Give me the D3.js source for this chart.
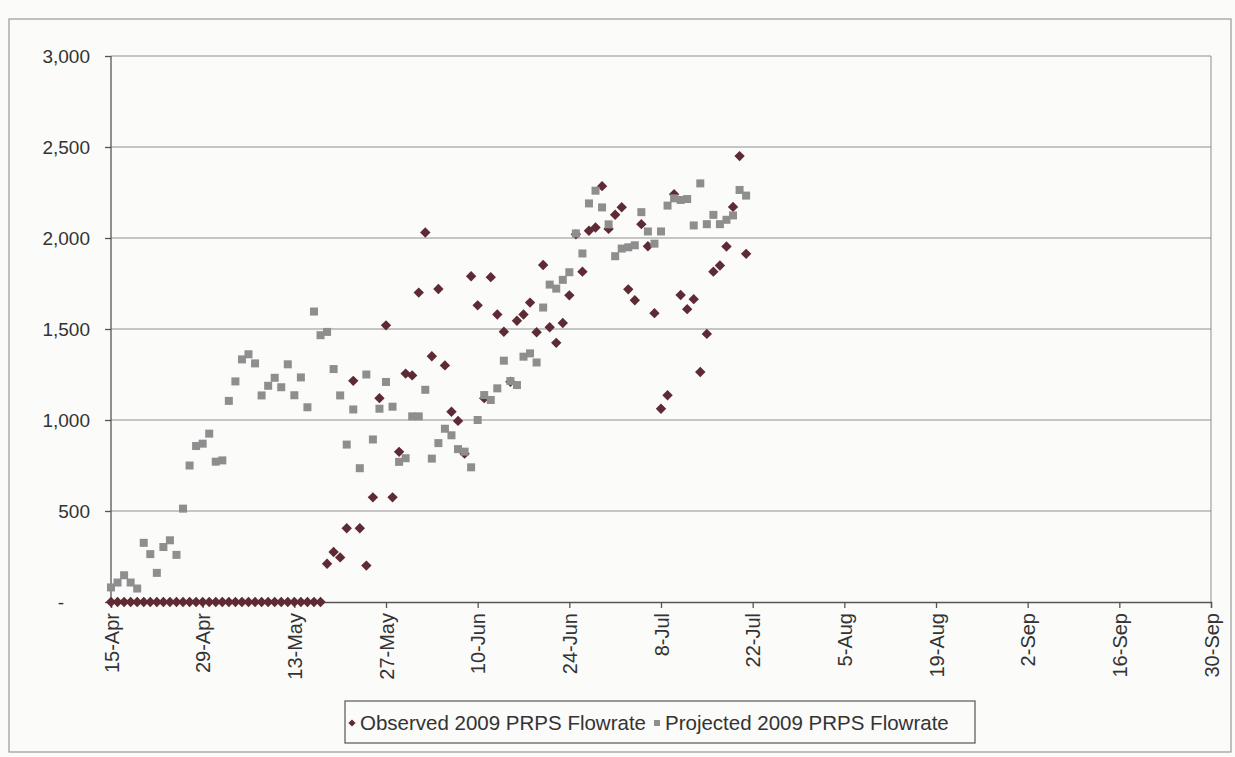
<!DOCTYPE html>
<html>
<head>
<meta charset="utf-8">
<script src="https://cdn.jsdelivr.net/npm/d3@7"></script>
<style>
body { margin: 0; background: #fbfbfa; }
text { font-family: "Liberation Sans", Arial, sans-serif; fill: #333; }
</style>
</head>
<body>
<div id="chart-area"></div>
<script>
// Daily values, first point on 15-Apr
var firstDay = "15-Apr-2009";

var observed = [
    0, 0, 0, 0, 0, 0, 0, 0, 0, 0, 0, 0, 0, 0, 0, 0, 0, 0, 0, 0,
    0, 0, 0, 0, 0, 0, 0, 0, 0, 0, 0, 0, 0,
    210, 275, 245, 405, 1215, 405, 200, 575, 1120, 1520,
    575, 825, 1255, 1245, 1700, 2030, 1350, 1720, 1300, 1045,
    995, 815, 1790, 1630, 1120, 1785, 1580, 1485, 1210, 1545,
    1580, 1645, 1482, 1852, 1510, 1424, 1533, 1685, 2020, 1815,
    2040, 2058, 2285, 2050, 2128, 2169, 1718, 1658, 2076, 1955,
    1587, 1062, 1136, 2240, 1687, 1609, 1664, 1264, 1473, 1815,
    1849, 1953, 2171, 2450, 1913
];

var projected = [
    80, 107, 147, 107, 74, 325, 263, 160, 302, 339,
    259, 513, 750, 857, 870, 925, 771, 778, 1105, 1212,
    1333, 1361, 1311, 1135, 1188, 1232, 1180, 1306, 1136, 1234,
    1070, 1596, 1466, 1484, 1280, 1135, 865, 1058, 735, 1250,
    893, 1062, 1209, 1073, 770, 790, 1020,
    1020, 1166, 788, 873, 952, 916, 840, 826, 740, 1000,
    1137, 1110, 1174, 1326, 1214, 1192, 1348, 1366, 1316, 1618,
    1744, 1722, 1770, 1812, 2025, 1915, 2190, 2260, 2168, 2075,
    1900, 1942, 1949, 1960, 2142, 2036, 1969, 2036, 2178, 2218,
    2209, 2214, 2069, 2300, 2076, 2127, 2076, 2100, 2124, 2264,
    2233
];

var xTickLabels = ["15-Apr", "29-Apr", "13-May", "27-May", "10-Jun", "24-Jun", "8-Jul",
                   "22-Jul", "5-Aug", "19-Aug", "2-Sep", "16-Sep", "30-Sep"];
var yTicks = [0, 500, 1000, 1500, 2000, 2500, 3000];
var seriesNames = ["Observed 2009 PRPS Flowrate", "Projected 2009 PRPS Flowrate"];

var obsColor = "#5e2a33",
    projColor = "#8e8e8e";

var margin = { left:111, right:24, top:56, bottom:155 };
var width = 1235 - margin.left - margin.right,
    height = 757 - margin.top - margin.bottom;

var parse = d3.timeParse("%d-%b-%Y");
var start = parse(firstDay);
var tickDates = xTickLabels.map(function(l){ return parse(l + "-2009"); });

var svg = d3.select("#chart-area")
    .append("svg")
        .attr("width", 1235)
        .attr("height", 757);

// chart border
svg.append("rect")
    .attr("x", 9).attr("y", 19)
    .attr("width", 1222).attr("height", 733)
    .attr("fill", "none")
    .attr("stroke", "#999")
    .attr("stroke-width", 1.2);

var g = svg.append("g")
    .attr("transform", "translate(" + margin.left + ", " + margin.top + ")");

// X scale
var x = d3.scaleTime()
    .domain([tickDates[0], tickDates[tickDates.length - 1]])
    .range([0, width]);

// Y scale
var y = d3.scaleLinear()
    .domain([0, 3000])
    .range([height, 0]);

// Gridlines
g.selectAll(".grid")
    .data(yTicks.slice(1))
    .enter().append("line")
        .attr("class", "grid")
        .attr("x1", 0).attr("x2", width)
        .attr("y1", function(d){ return y(d); })
        .attr("y2", function(d){ return y(d); })
        .attr("stroke", "#8f8f8f")
        .attr("stroke-width", 1);

// plot area right edge
g.append("line")
    .attr("x1", width).attr("x2", width)
    .attr("y1", 0).attr("y2", height)
    .attr("stroke", "#8f8f8f");

// Y axis
var yAxisCall = d3.axisLeft(y)
    .tickValues(yTicks)
    .tickSize(6)
    .tickPadding(15)
    .tickFormat(function(d){ return d === 0 ? "-" : d3.format(",")(d); });
var yAxis = g.append("g")
    .attr("class", "y axis")
    .call(yAxisCall);
yAxis.selectAll("text")
    .attr("font-size", "19px")
    .attr("fill", "#333")
    .attr("dx", function(d){ return d === 0 ? -26 : 0; });

// X axis
var xAxisCall = d3.axisBottom(x)
    .tickValues(tickDates)
    .tickSize(6)
    .tickFormat(d3.timeFormat("%-d-%b"));
var xAxis = g.append("g")
    .attr("class", "x axis")
    .attr("transform", "translate(0," + height + ")")
    .call(xAxisCall);
xAxis.selectAll("text")
    .attr("font-size", "20px")
    .attr("fill", "#333")
    .attr("text-anchor", "end")
    .attr("transform", "rotate(-90)")
    .attr("x", -11)
    .attr("y", 0)
    .attr("dy", "0.35em");

g.selectAll(".axis path, .axis line")
    .attr("stroke", "#555")
    .attr("stroke-width", 1.3);
yAxis.select("path").remove();
g.append("line")
    .attr("x1", 0).attr("x2", 0)
    .attr("y1", 0).attr("y2", height)
    .attr("stroke", "#555").attr("stroke-width", 1.3);

// Observed points
var obsData = observed.map(function(v, i){ return { date: d3.timeDay.offset(start, i), value: v }; })
    .filter(function(d){ return d.value != null; });
var projData = projected.map(function(v, i){ return { date: d3.timeDay.offset(start, i), value: v }; })
    .filter(function(d){ return d.value != null; });

var diamond = d3.symbol().type(d3.symbolSquare).size(54);

g.selectAll(".obs")
    .data(obsData)
    .enter().append("path")
        .attr("class", "obs")
        .attr("d", diamond)
        .attr("transform", function(d){
            return "translate(" + x(d.date) + "," + y(d.value) + ") rotate(45)";
        })
        .attr("fill", obsColor);

// Projected points
var sq = 8;
g.selectAll(".proj")
    .data(projData)
    .enter().append("rect")
        .attr("class", "proj")
        .attr("x", function(d){ return x(d.date) - sq / 2; })
        .attr("y", function(d){ return y(d.value) - sq / 2; })
        .attr("width", sq)
        .attr("height", sq)
        .attr("fill", projColor);

// Legend
var legend = svg.append("g")
    .attr("transform", "translate(345, 701)");
legend.append("rect")
    .attr("width", 630)
    .attr("height", 42)
    .attr("fill", "none")
    .attr("stroke", "#555")
    .attr("stroke-width", 1.2);

legend.append("path")
    .attr("d", d3.symbol().type(d3.symbolSquare).size(26))
    .attr("transform", "translate(7,22) rotate(45)")
    .attr("fill", obsColor);
var t1 = legend.append("text")
    .attr("x", 15)
    .attr("y", 22)
    .attr("dy", "0.35em")
    .attr("font-size", "20.5px")
    .text(seriesNames[0]);

var x2 = 15 + t1.node().getComputedTextLength() + 11;
legend.append("rect")
    .attr("x", x2 - 3).attr("y", 19)
    .attr("width", 6).attr("height", 6)
    .attr("fill", projColor);
legend.append("text")
    .attr("x", x2 + 8)
    .attr("y", 22)
    .attr("dy", "0.35em")
    .attr("font-size", "20.5px")
    .text(seriesNames[1]);
</script>
</body>
</html>
